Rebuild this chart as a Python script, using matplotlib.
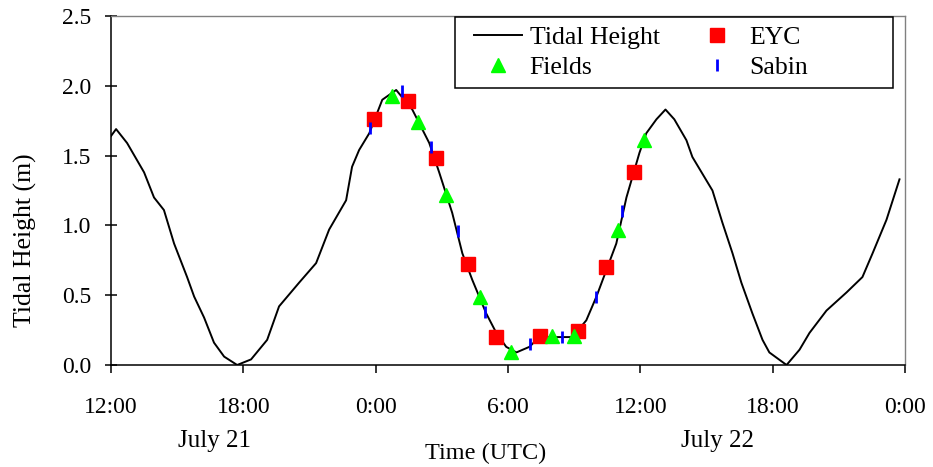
import matplotlib.pyplot as plt
from matplotlib.lines import Line2D
from matplotlib.patches import Rectangle
from matplotlib.ticker import FormatStrFormatter

# hours since 12:00 UTC on July 21
tide_hours = [0.0, 0.23, 0.73, 1.50, 1.95, 2.40, 2.86, 3.45, 3.77, 4.22, 4.67, 5.13,
              5.72, 6.35, 7.08, 7.62, 8.53, 9.30, 9.89, 10.66, 10.93, 11.25, 11.71,
              12.30, 12.93, 13.66, 14.43, 14.88, 15.47, 15.93, 16.38, 17.01, 17.47,
              17.92, 18.38, 18.97, 19.42, 20.19, 20.92, 21.55, 22.01, 22.46, 22.91,
              23.37, 23.96, 24.27, 24.73, 25.14, 25.54, 26.09, 26.36, 27.27, 27.72,
              28.18, 28.58, 29.08, 29.54, 29.85, 30.63, 31.22, 31.67, 32.44, 33.35,
              34.07, 34.53, 35.16, 35.75]
tide_height = [1.64, 1.69, 1.59, 1.38, 1.20, 1.11, 0.87, 0.63, 0.49, 0.34, 0.16, 0.06,
               0.00, 0.04, 0.18, 0.42, 0.59, 0.73, 0.97, 1.18, 1.42, 1.54, 1.66,
               1.90, 1.97, 1.83, 1.59, 1.38, 1.09, 0.80, 0.61, 0.37, 0.23,
               0.13, 0.09, 0.13, 0.20, 0.20, 0.20, 0.32, 0.49, 0.68, 0.87,
               1.20, 1.52, 1.66, 1.76, 1.83, 1.76, 1.61, 1.49, 1.25, 1.02,
               0.80, 0.59, 0.37, 0.18, 0.09, 0.00, 0.11, 0.23, 0.39, 0.52,
               0.63, 0.80, 1.04, 1.33]

eyc_hours = [11.93, 13.48, 14.75, 16.20, 17.47, 19.46, 21.19, 22.46, 23.73]
eyc_height = [1.76, 1.89, 1.48, 0.72, 0.20, 0.21, 0.24, 0.70, 1.38]
fields_hours = [12.75, 13.93, 15.20, 16.74, 18.15, 20.00, 21.00, 23.00, 24.18]
fields_height = [1.93, 1.74, 1.22, 0.49, 0.09, 0.21, 0.21, 0.97, 1.61]
sabin_hours = [11.75, 13.20, 14.52, 15.74, 16.97, 19.00, 20.46, 22.00, 23.19]
sabin_height = [1.70, 1.96, 1.56, 0.96, 0.38, 0.15, 0.20, 0.49, 1.10]

tick_hours = [0, 6, 12, 18, 24, 30, 36]
tick_labels = ['12:00', '18:00', '0:00', '6:00', '12:00', '18:00', '0:00']
day_labels = ['July 21', 'July 22']
day_label_hours = [4.7, 27.5]

plt.rcParams['font.family'] = ['Liberation Serif', 'DejaVu Serif']
plt.rcParams['font.size'] = 17

W, H = 933, 467
fig = plt.figure(figsize=(W / 100, H / 100), dpi=100)
ax = fig.add_axes([111 / W, 1 - 365 / H, (905 - 111) / W, (365 - 16) / H])

ax.plot(tide_hours, tide_height, color='black', lw=1.4, zorder=2)
ax.plot(eyc_hours, eyc_height, ls='none', marker='s', ms=9.4, color='#ff0000',
        mec='#ff0000', zorder=3)
ax.plot(fields_hours, fields_height, ls='none', marker='^', ms=9.5, color='#00ff00',
        mec='#00ff00', zorder=4)
ax.plot(sabin_hours, sabin_height, ls='none', marker='|', ms=9.2, mew=2.0,
        color='#0000ff', zorder=5)

ax.set_xlim(0, 36)
ax.set_ylim(0, 2.5)
ax.set_xticks(tick_hours)
ax.set_xticklabels(tick_labels)
ax.set_yticks([0, 0.5, 1.0, 1.5, 2.0, 2.5])
ax.yaxis.set_major_formatter(FormatStrFormatter('%.1f'))
ax.tick_params(axis='x', direction='out', length=5.8, width=1.1, pad=17)
ax.tick_params(axis='y', direction='inout', length=8.6, width=1.1, pad=10)

for s in ['left', 'bottom']:
    ax.spines[s].set_linewidth(1.1)
    ax.spines[s].set_color('black')
for s in ['top', 'right']:
    ax.spines[s].set_linewidth(1.0)
    ax.spines[s].set_color('#808080')

for lab, hr in zip(day_labels, day_label_hours):
    ax.text(hr, -0.218, lab, transform=ax.get_xaxis_transform(),
            ha='center', va='center', fontsize=18)

ax.set_xlabel('Time (UTC)', fontsize=17.5)
ax.xaxis.label.set_va('center')
ax.xaxis.set_label_coords((486 - 111) / 794, (365 - 453) / 349)
ax.set_ylabel('Tidal Height (m)', fontsize=18.5)
ax.yaxis.label.set_va('center')
ax.yaxis.set_label_coords((25 - 111) / 794, (365 - 240) / 349)

# legend box is wider than its content in the original, so draw the frame separately
fig.add_artist(Rectangle((455 / W, 1 - 88 / H), (893 - 455) / W, (88 - 17) / H,
                         transform=fig.transFigure, facecolor='white',
                         edgecolor='black', lw=1.1, zorder=5))

handles = [
    Line2D([], [], color='black', lw=1.4),
    Line2D([], [], ls='none', marker='^', ms=9.5, color='#00ff00'),
    Line2D([], [], ls='none', marker='s', ms=9.4, color='#ff0000'),
    Line2D([], [], ls='none', marker='|', ms=9.2, mew=2.0, color='#0000ff'),
]
labels = ['Tidal Height', 'Fields', 'EYC', 'Sabin']
leg = fig.legend(handles, labels, ncol=2, loc='upper left',
                 bbox_to_anchor=(474 / W, 1 - 26 / H), bbox_transform=fig.transFigure,
                 borderaxespad=0, borderpad=0, frameon=False, fontsize=18.5,
                 handlelength=1.85, handletextpad=0.32, columnspacing=1.3,
                 labelspacing=0.28)
leg.set_zorder(6)

fig.savefig('out.png', dpi=100)
